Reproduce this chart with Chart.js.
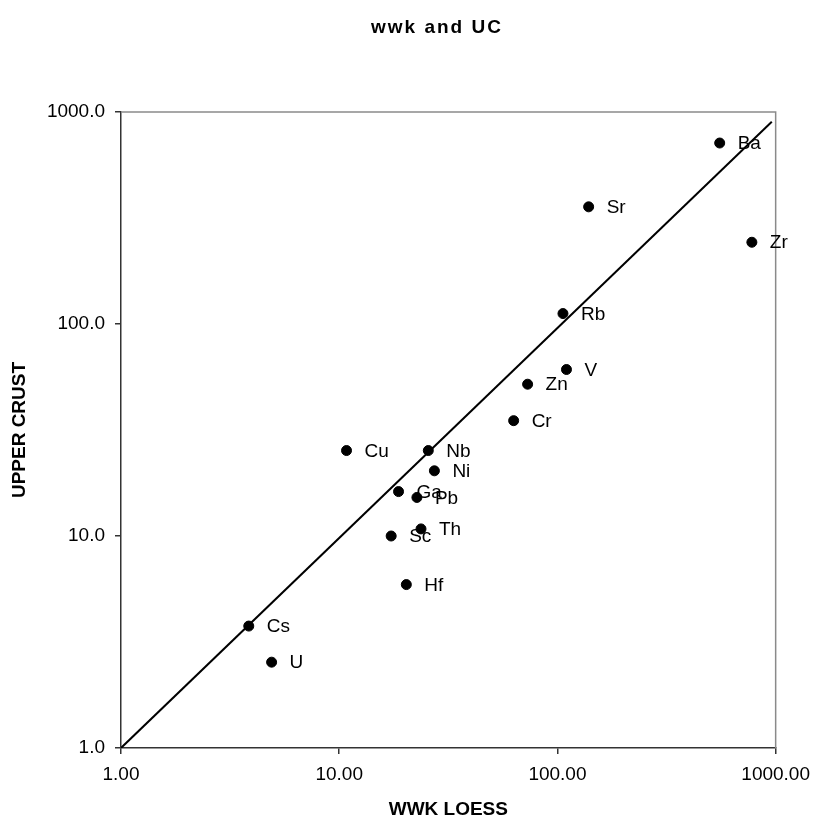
<!DOCTYPE html>
<html>
<head>
<meta charset="utf-8">
<script src="https://cdn.jsdelivr.net/npm/chart.js@4"></script>
<style>
  html, body { margin: 0; padding: 0; background: #fff; }
  #wrap { width: 819px; height: 823px; }
</style>
</head>
<body>
<div id="wrap"><canvas id="wwkChart" width="819" height="823"></canvas></div>
<script>
const FONT = "'Liberation Sans', Arial, sans-serif";

// element names, loess values (x) and upper crust values (y)
const elements = ['Ba', 'Sr', 'Zr', 'Rb', 'V', 'Zn', 'Cr', 'Cu', 'Nb', 'Ni', 'Ga', 'Pb', 'Sc', 'Th', 'Hf', 'Cs', 'U'];
const wwkLoess = [554, 139, 778, 106, 110, 73, 63, 10.8, 25.6, 27.3, 18.7, 22.7, 17.3, 23.7, 20.3, 3.85, 4.9];
const upperCrust = [714, 357, 243, 112, 61, 52, 35, 25.3, 25.3, 20.3, 16.2, 15.2, 10.0, 10.8, 5.9, 3.76, 2.54];

// reference line ends
const refLineX = [1, 960];
const refLineY = [1, 900];

const tickValues = [1, 10, 100, 1000];

const points = elements.map((el, i) => ({ x: wwkLoess[i], y: upperCrust[i] }));
const refLine = refLineX.map((v, i) => ({ x: v, y: refLineY[i] }));

// element names next to each dot
const pointLabels = {
    id: 'pointLabels',
    afterDatasetsDraw(chart) {
        const ctx = chart.ctx;
        const meta = chart.getDatasetMeta(1);
        ctx.save();
        ctx.font = '19px ' + FONT;
        ctx.fillStyle = '#000';
        ctx.textAlign = 'left';
        ctx.textBaseline = 'middle';
        meta.data.forEach((pt, i) => {
            ctx.fillText(elements[i], pt.x + 18, pt.y + 1);
        });
        ctx.restore();
    }
};

// grey frame on top and right, plus the chart title
const frameAndTitle = {
    id: 'frameAndTitle',
    beforeDatasetsDraw(chart) {
        const { ctx, chartArea: a } = chart;
        ctx.save();
        ctx.strokeStyle = '#8a8a8a';
        ctx.lineWidth = 1.5;
        ctx.beginPath();
        ctx.moveTo(a.left, a.top);
        ctx.lineTo(a.right, a.top);
        ctx.lineTo(a.right, a.bottom);
        ctx.stroke();
        ctx.restore();
    },
    afterDraw(chart) {
        const ctx = chart.ctx;
        ctx.save();
        ctx.font = 'bold 19px ' + FONT;
        ctx.letterSpacing = '2px';
        ctx.fillStyle = '#000';
        ctx.textAlign = 'center';
        ctx.textBaseline = 'middle';
        ctx.fillText('wwk and UC', 437, 28);
        ctx.restore();
    }
};

const fixTicks = (scale) => {
    scale.ticks = tickValues.map(v => ({ value: v }));
};

new Chart(document.getElementById('wwkChart'), {
    type: 'scatter',
    data: {
        datasets: [{
            type: 'line',
            data: refLine,
            borderColor: '#000',
            borderWidth: 2,
            pointRadius: 0,
            fill: false
        }, {
            data: points,
            backgroundColor: '#000',
            borderColor: '#000',
            pointRadius: 5,
            pointHoverRadius: 5
        }]
    },
    options: {
        responsive: false,
        animation: false,
        events: [],
        layout: { padding: { left: 0, right: 42, top: 112, bottom: 0 } },
        plugins: {
            legend: { display: false },
            tooltip: { enabled: false }
        },
        scales: {
            x: {
                type: 'logarithmic',
                min: 1,
                max: 1000,
                afterBuildTicks: fixTicks,
                afterFit: (s) => { s.height = 75; },
                grid: { drawOnChartArea: false, tickLength: 6, color: '#333', lineWidth: 1.5 },
                border: { color: '#333', width: 1.5 },
                ticks: {
                    padding: 9,
                    color: '#000',
                    font: { family: FONT, size: 19 },
                    maxRotation: 0,
                    autoSkip: false,
                    callback: (v) => Number(v).toFixed(2)
                },
                title: {
                    display: true,
                    text: 'WWK LOESS',
                    color: '#000',
                    font: { family: FONT, size: 19, weight: 'bold' },
                    padding: { top: 11, bottom: 2 }
                }
            },
            y: {
                type: 'logarithmic',
                min: 1,
                max: 1000,
                afterBuildTicks: fixTicks,
                afterFit: (s) => { s.width = 121; },
                grid: { drawOnChartArea: false, tickLength: 6, color: '#333', lineWidth: 1.5 },
                border: { color: '#333', width: 1.5 },
                ticks: {
                    padding: 10,
                    color: '#000',
                    font: { family: FONT, size: 19 },
                    autoSkip: false,
                    callback: (v) => Number(v).toFixed(1)
                },
                title: {
                    display: true,
                    text: 'UPPER CRUST',
                    color: '#000',
                    font: { family: FONT, size: 19, weight: 'bold' },
                    padding: { top: 8, bottom: 0 }
                }
            }
        }
    },
    plugins: [pointLabels, frameAndTitle]
});
</script>
</body>
</html>
